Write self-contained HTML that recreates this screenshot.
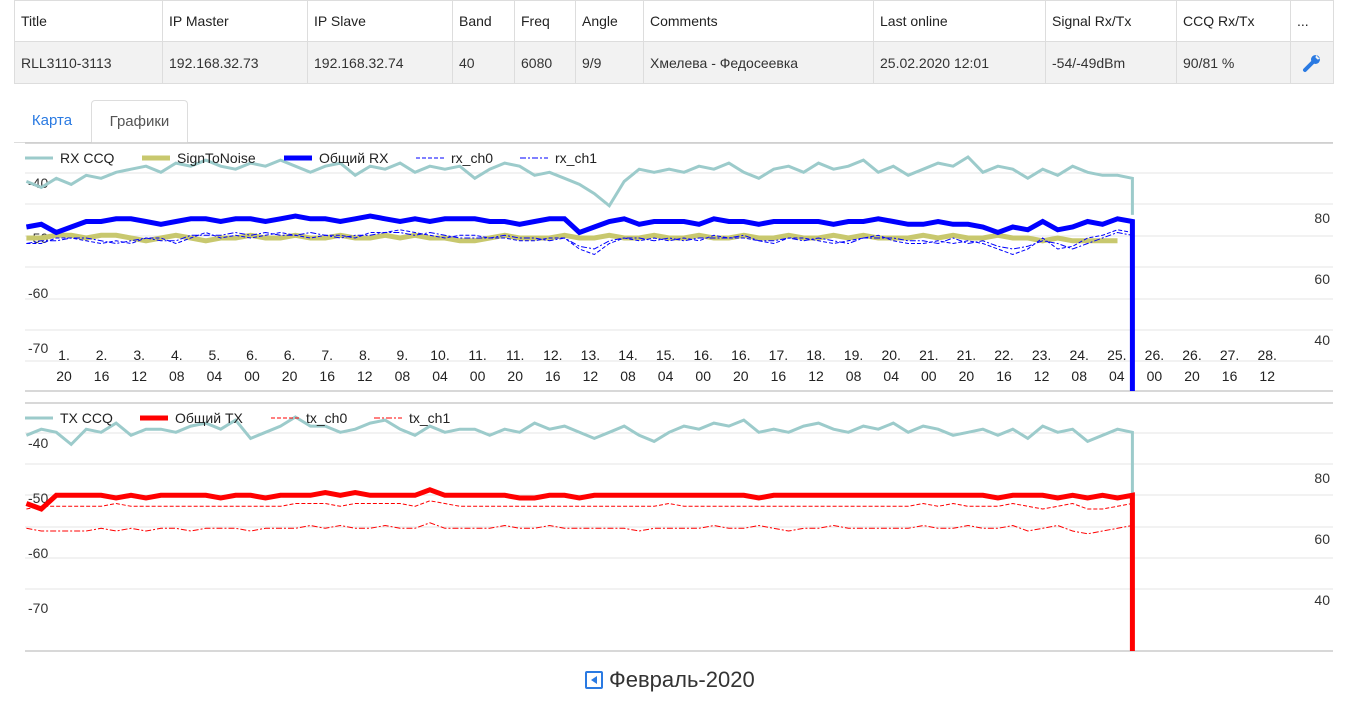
<!DOCTYPE html>
<html><head><meta charset="utf-8">
<style>
html,body{margin:0;width:1349px;height:710px;overflow:hidden}
body{background:#fff;font-family:"Liberation Sans",sans-serif;position:relative}
table{position:absolute;left:14px;top:0;border-collapse:collapse;font-size:14px;color:#222}
td,th{border:1px solid #ddd;text-align:left;font-weight:normal;padding:0 6px;white-space:nowrap}
th{height:40px}
tr.d td{height:41px;background:#f2f2f2;color:#333}
#tabs{position:absolute;left:14px;top:100px;width:1319px;height:42px;border-bottom:1px solid #ddd}
.tab{position:absolute;top:0;height:42px;line-height:42px;font-size:15px;text-align:center;box-sizing:border-box}
svg{position:absolute;left:0;top:0}
#pager{position:absolute;top:667px;left:585px;font-size:22px;color:#333;height:26px;line-height:26px}
#pager .ic{display:inline-block;width:18px;height:18px;border:2px solid #2a7ae2;border-radius:2px;box-sizing:border-box;vertical-align:-2px;margin-right:6px;position:relative}
#pager .ic:after{content:"";position:absolute;left:4px;top:3px;border-right:6px solid #2a7ae2;border-top:4px solid transparent;border-bottom:4px solid transparent}
</style></head><body>
<table>
<tr><th style="width:135px">Title</th><th style="width:132px">IP Master</th><th style="width:132px">IP Slave</th><th style="width:49px">Band</th><th style="width:48px">Freq</th><th style="width:55px">Angle</th><th style="width:217px">Comments</th><th style="width:159px">Last online</th><th style="width:118px">Signal Rx/Tx</th><th style="width:101px">CCQ Rx/Tx</th><th style="width:30px">...</th></tr>
<tr class="d"><td>RLL3110-3113</td><td>192.168.32.73</td><td>192.168.32.74</td><td>40</td><td>6080</td><td>9/9</td><td>Хмелева - Федосеевка</td><td>25.02.2020 12:01</td><td>-54/-49dBm</td><td>90/81 %</td><td style="text-align:center"><svg width="20" height="20" viewBox="0 0 20 20" style="position:static;vertical-align:middle"><path d="M3 17 L11 9" stroke="#2a7ae2" stroke-width="4" stroke-linecap="round"/><circle cx="13.5" cy="6.5" r="4.5" fill="#2a7ae2"/><path d="M14 2 L18 6 L15.5 6.5 L13.5 4.5Z" fill="#f2f2f2"/></svg></td></tr>
</table>
<div id="tabs">
<div class="tab" style="left:0;width:76px;color:#2a7ae2">Карта</div>
<div class="tab" style="left:77px;width:97px;height:43px;color:#555;border:1px solid #ddd;border-bottom:1px solid #fff;border-radius:4px 4px 0 0;background:#fff">Графики</div>
</div>
<svg id="sv" width="1349" height="710"></svg>
<div id="pager"><span class="ic"></span>Февраль-2020</div>
<script>
const xLabelsDay=["1.","2.","3.","4.","5.","6.","6.","7.","8.","9.","10.","11.","11.","12.","13.","14.","15.","16.","16.","17.","18.","19.","20.","21.","21.","22.","23.","24.","25.","26.","26.","27.","28."];
const xLabelsHour=["20","16","12","08","04","00","20","16","12","08","04","00","20","16","12","08","04","00","20","16","12","08","04","00","20","16","12","08","04","00","20","16","12"];
const leftTicks=[-40,-50,-60,-70];
const rightTicks=[80,60,40];
const rxCcq=[92,90,93,91,94,93,95,96,97,95,98,97,99,97,96,98,97,99,97,95,97,98,94,97,96,98,95,97,96,97,93,96,98,97,94,95,93,91,88,84,92,96,95,96,95,97,96,98,95,93,96,97,95,98,96,97,99,95,97,94,96,98,97,100,95,97,96,93,96,94,97,95,94,94,93,81];
const rxTotal=[-48,-47.5,-49,-48,-47,-47,-46.5,-46.5,-47,-47.5,-47,-46.5,-46.5,-47,-46.5,-46.5,-47,-46.5,-46,-46.5,-46.5,-47,-46.5,-46,-46.5,-47,-46.5,-47,-46.5,-46.5,-46.5,-47,-47,-47.5,-47,-46.5,-46.5,-49,-48,-47,-46.5,-47.5,-47,-47,-47,-47.5,-46.5,-47,-47,-47.5,-47,-47,-47,-47,-47.5,-47,-47,-46.5,-47,-47.5,-47.5,-47,-47.5,-47.5,-48,-49,-48,-48.5,-47,-48.5,-48,-47,-47.5,-46.5,-47,-95];
const snr=[-50,-50,-49.5,-49.5,-50,-49.5,-49.5,-50,-50.5,-50,-49.5,-50,-50.5,-50,-50,-49.5,-50,-50,-49.5,-50,-50,-49.5,-50,-50,-49.5,-50,-49.5,-50,-50,-50.5,-50.5,-50,-49.5,-50,-50,-50,-49.5,-50,-50,-49.5,-50,-50,-49.5,-50,-50,-49.5,-50,-50,-49.5,-50,-50,-49.5,-50,-50,-49.5,-50,-49.5,-50,-50,-50,-49.5,-50,-49.5,-50,-50,-49.5,-50,-50,-50.5,-50,-50.5,-50.5,-50.5,-50.5,-50.5];
const rxCh0=[-51,-51,-50,-50,-50.5,-51,-50.5,-51,-50,-50,-51,-50,-49,-50,-49.5,-50,-49.5,-49,-49.5,-50,-49.5,-49.5,-50,-49,-49,-48.5,-49,-49.5,-50,-49.5,-49.5,-50,-50,-50.5,-50.5,-50,-50,-52,-53,-51,-50,-50.5,-50,-50.5,-50,-50.5,-49.5,-50,-50,-50.5,-51,-50,-50,-50.5,-51,-50.5,-50,-49.5,-50.5,-51,-51,-50.5,-51,-50.5,-51,-52,-53,-52,-50,-52,-51.5,-50,-49.5,-48.5,-49,-95];
const rxCh1=[-51,-50.5,-50.5,-50,-50,-50.5,-51,-50.5,-50,-50.5,-50.5,-49.5,-49.5,-49.5,-49,-49.5,-49,-49.5,-49.5,-49,-49.5,-50,-49.5,-49.5,-49,-49,-49.5,-49,-49.5,-50,-50,-50,-49.5,-50,-50,-50.5,-50,-51.5,-52,-50.5,-50,-50,-50.5,-50,-50.5,-50,-50,-50,-49.5,-50.5,-50.5,-50,-50.5,-50,-50.5,-51,-50,-50,-50,-50.5,-50.5,-51,-50,-51,-50.5,-51.5,-52,-51.5,-50.5,-51,-52,-51,-50,-49,-49.5,-95];
const txCcq=[94,96,95,91,96,95,98,94,96,96,95,97,98,96,99,93,95,97,100,97,97,95,96,98,99,96,94,97,95,96,96,94,96,95,98,96,97,95,93,95,97,94,92,95,97,96,98,97,99,95,96,95,97,98,96,95,97,96,98,95,97,96,94,95,96,94,96,93,97,95,96,92,94,96,95,74];
const txTotal=[-51,-52,-49.5,-49.5,-49.5,-49.5,-50,-49.5,-50,-49.5,-49.5,-49.5,-49.5,-50,-49.5,-49.5,-50,-49.5,-49.5,-49.5,-49,-49.5,-49,-49.5,-49.5,-49.5,-49.5,-48.5,-49.5,-49.5,-49.5,-49.5,-49.5,-50,-50,-49.5,-49.5,-50,-49.5,-49.5,-49.5,-49.5,-49.5,-49.5,-49.5,-49.5,-49.5,-49.5,-49.5,-50,-49.5,-49.5,-49.5,-49.5,-49.5,-49.5,-49.5,-49.5,-49.5,-49.5,-49.5,-49.5,-49.5,-49.5,-49.5,-50,-49.5,-49.5,-49.5,-50,-49.5,-50,-49.5,-50,-49.5,-95];
const txCh0=[-52,-51.5,-51.5,-51.5,-51.5,-51.5,-51,-51.5,-51.5,-51.5,-51.5,-51.5,-51.5,-51.5,-51.5,-51.5,-51.5,-51.5,-51,-51,-51,-51.5,-51,-51,-51,-51,-51.5,-50.5,-51,-51.5,-51.5,-51.5,-51.5,-51.5,-51.5,-51.5,-51.5,-51.5,-51.5,-51.5,-51.5,-51.5,-51.5,-51,-51.5,-51.5,-51.5,-51.5,-51.5,-51.5,-51.5,-51.5,-51.5,-51.5,-51.5,-51.5,-51.5,-51.5,-51.5,-51.5,-51,-51.5,-51,-51.5,-51.5,-51.5,-51,-51.5,-52,-51.5,-51,-52,-52,-51.5,-51,-95];
const txCh1=[-55.5,-56,-56,-56,-56,-55.5,-56,-55.5,-56,-55.5,-55.5,-56,-55.5,-55.5,-55.5,-56,-55.5,-55.5,-55.5,-55,-55.5,-55,-55.5,-55.5,-55,-55.5,-55.5,-54.5,-55.5,-55.5,-55.5,-55.5,-55,-55.5,-55.5,-55,-55.5,-55.5,-55.5,-55.5,-55.5,-56,-55.5,-55.5,-55.5,-55.5,-55,-55.5,-55.5,-55,-55.5,-56,-55.5,-55.5,-55,-55.5,-55.5,-55.5,-55.5,-55.5,-55,-55.5,-55.5,-55,-55.5,-55.5,-55,-56,-55.5,-55,-56,-56.5,-56,-55.5,-55,-95];

const NS="http://www.w3.org/2000/svg";
const sv=document.getElementById('sv');
function mk(tag,attrs,parent){const e=document.createElementNS(NS,tag);for(const k in attrs)e.setAttribute(k,attrs[k]);(parent||sv).appendChild(e);return e;}
const PXH=37.6/20, X0=26.4, STEP=7.95;
function xOf(i,n){const h=(i<n-1?i:n-2)*STEP; return X0+h*PXH;}
function charts(top){return {L:v=>top+40+(-40-v)*5.5, R:v=>top+75+(80-v)*3.05};}
const c1=charts(143), c2=charts(403);
const defs=mk('defs',{});
[[143,391,'cl1'],[403,651,'cl2']].forEach(([a,b,id])=>{const cp=mk('clipPath',{id:id},defs);mk('rect',{x:0,y:a,width:1349,height:b-a},cp);});
function grid(ys,top,bot,name){
  const g=mk('g',{});
  mk('line',{x1:25,x2:1333,y1:top,y2:top,stroke:'#ccc','stroke-width':1.5},g);
  ys.forEach(y=>mk('line',{x1:25,x2:1333,y1:y,y2:y,stroke:'#e6e6e6','stroke-width':1},g));
  mk('line',{x1:25,x2:1333,y1:bot,y2:bot,stroke:'#ccc','stroke-width':1.5},g);
}
grid([173,204,236,267,299,330,361],143,391,'rx-gridlines');
grid([433,464,495,527,558,589],403,651,'tx-gridlines');
function ticks(c,name){
  leftTicks.forEach(v=>{const t=mk('text',{x:28,y:c.L(v)+5,'font-size':14,fill:'#333'});t.textContent=v;});
  rightTicks.forEach(v=>{const t=mk('text',{x:1330,y:c.R(v)+5,'font-size':14,fill:'#333','text-anchor':'end'});t.textContent=v;});
}
ticks(c1,'rx');ticks(c2,'tx');
xLabelsDay.forEach((d,i)=>{const x=X0+(20+i*20)*PXH;
  const t=mk('text',{x:x,y:360,'font-size':14,fill:'#222','text-anchor':'middle'});t.textContent=d;
  
  const t2=mk('text',{x:x,y:381,'font-size':14,fill:'#222','text-anchor':'middle'});t2.textContent=xLabelsHour[i];
  });
function series(arr,sc,color,w,dash,clip,name){
  const n=arr.length;const pts=arr.map((v,i)=>xOf(i,n).toFixed(1)+','+sc(v).toFixed(1)).join(' ');
  const p=mk('polyline',{points:pts,fill:'none',stroke:color,'stroke-width':w,'stroke-dasharray':dash||'none','clip-path':'url(#'+clip+')','stroke-linejoin':'miter'});
  
}
series(rxCcq,c1.R,'#9ccbcb',3,null,'cl1','rx-ccq-line');
series(snr,c1.L,'#c8c86e',5,null,'cl1','sign-to-noise-line');
series(rxCh0,c1.L,'#0000ff',1,'4,2','cl1','rx-ch0-line');
series(rxCh1,c1.L,'#0000ff',1,'6,2,2,2','cl1','rx-ch1-line');
series(rxTotal,c1.L,'#0000ff',5,null,'cl1','rx-total-line');
series(txCcq,c2.R,'#9ccbcb',3,null,'cl2','tx-ccq-line');
series(txCh0,c2.L,'#ff0000',1,'4,2','cl2','tx-ch0-line');
series(txCh1,c2.L,'#ff0000',1,'6,2,2,2','cl2','tx-ch1-line');
series(txTotal,c2.L,'#ff0000',5,null,'cl2','tx-total-line');
function legend(items,y,name){
  items.forEach(([x,label,color,w,dash])=>{
    const g=mk('g',{});
    mk('line',{x1:x,x2:x+28,y1:y,y2:y,stroke:color,'stroke-width':w,'stroke-dasharray':dash||'none'},g);
    const t=mk('text',{x:x+35,y:y+5,'font-size':14,fill:'#222'},g);t.textContent=label;
  });
}
legend([[25,'RX CCQ','#9ccbcb',3],[142,'SignToNoise','#c8c86e',5],[284,'Общий RX','#0000ff',5],[416,'rx_ch0','#0000ff',1,'4,2'],[520,'rx_ch1','#0000ff',1,'6,2,2,2']],158,'rx-legend-entry');
legend([[25,'TX CCQ','#9ccbcb',3],[140,'Общий TX','#ff0000',5],[271,'tx_ch0','#ff0000',1,'4,2'],[374,'tx_ch1','#ff0000',1,'6,2,2,2']],418,'tx-legend-entry');
</script>
</body></html>
